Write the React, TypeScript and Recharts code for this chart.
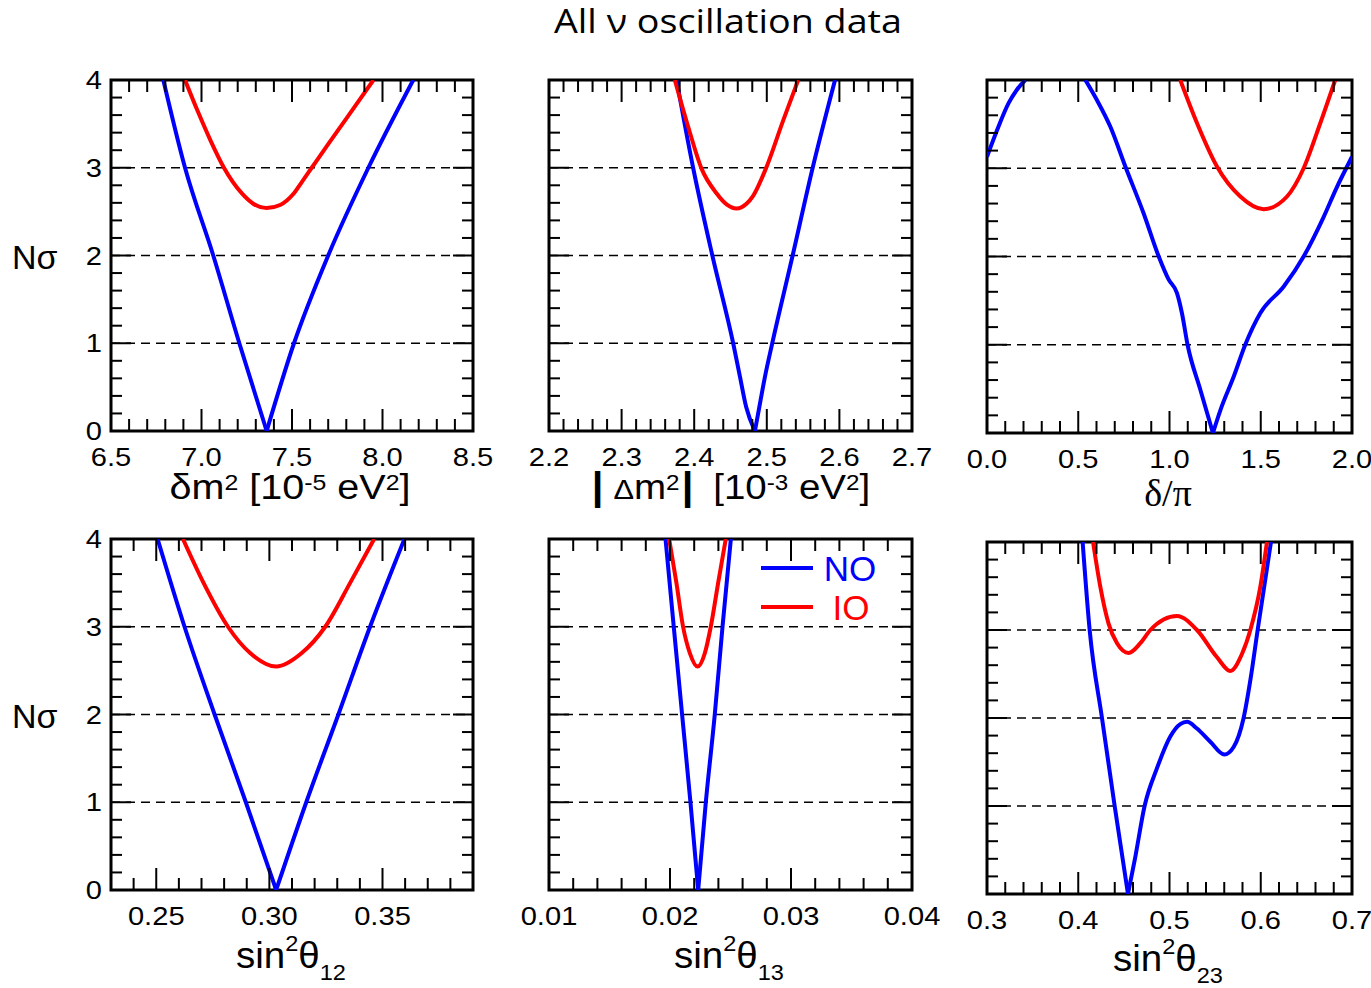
import React from "react";
import { LineChart, Line, XAxis, YAxis, ReferenceLine, ReferenceArea } from "recharts";

const SANS = "'Liberation Sans', Arial, Helvetica, sans-serif";
const SERIF = "'Liberation Serif', 'Times New Roman', serif";

const chartTitle = "All \u03bd oscillation data";
const seriesNames = ["NO", "IO"];
const seriesColors = ["#0000ff", "#ff0000"];
const sigmaLevels = [1, 2, 3];
const yMajor = [0, 1, 2, 3, 4];
const yMajorLabels = ["0", "1", "2", "3", "4"];

// delta m^2_21
const dm21Major = [6.5, 7.0, 7.5, 8.0, 8.5];
const dm21Labels = ["6.5", "7.0", "7.5", "8.0", "8.5"];
const dm21NOx = [6.789, 6.909, 7.065, 7.209, 7.36, 7.511, 7.70, 7.922, 8.17];
const dm21NOy = [4, 3, 2, 1, 0, 1, 2, 3, 4];
const dm21NOtip = 7.36;
const dm21IOx = [6.909, 6.98, 7.05, 7.124, 7.222, 7.286, 7.36, 7.434, 7.507, 7.555, 7.609, 7.70, 7.80, 7.95];
const dm21IOy = [4, 3.64, 3.31, 3.0, 2.71, 2.59, 2.54, 2.575, 2.7, 2.84, 3.0, 3.27, 3.56, 4.0];

// |Delta m^2|
const dm31Major = [2.2, 2.3, 2.4, 2.5, 2.6, 2.7];
const dm31Labels = ["2.2", "2.3", "2.4", "2.5", "2.6", "2.7"];
const dm31NOx = [2.3757, 2.3985, 2.425, 2.4537, 2.463, 2.4717, 2.4836, 2.4881, 2.4975, 2.5075, 2.5356, 2.5632, 2.594];
const dm31NOy = [4, 3, 2, 1, 0.62, 0.27, 0, 0.2, 0.62, 1, 2, 3, 4];
const dm31NOtip = 2.4836;
const dm31IOx = [2.3733, 2.3916, 2.4101, 2.4307, 2.445, 2.4583, 2.472, 2.4812, 2.4987, 2.5226, 2.5433];
const dm31IOy = [4, 3.47, 2.99, 2.71, 2.58, 2.536, 2.59, 2.68, 2.99, 3.54, 4];

// delta / pi
const cpMajor = [0, 0.5, 1.0, 1.5, 2.0];
const cpLabels = ["0.0", "0.5", "1.0", "1.5", "2.0"];
const cpNOx = [0, 0.055, 0.119, 0.164, 0.21, 0.375, 0.539, 0.603, 0.676, 0.758, 0.858, 0.941, 0.995, 1.041, 1.068, 1.099, 1.169, 1.238, 1.279, 1.352, 1.415, 1.498, 1.626, 1.735, 1.845, 1.918, 1.973, 2.0];
const cpNOy = [3.13, 3.43, 3.74, 3.89, 4.0, null, 4.0, 3.77, 3.47, 3.02, 2.49, 2.0, 1.74, 1.585, 1.36, 1.0, 0.49, 0, 0.26, 0.64, 1.0, 1.36, 1.66, 2.0, 2.45, 2.79, 3.02, 3.13];
const cpNOtip = 1.238;
const cpIOx = [1.059, 1.151, 1.26, 1.388, 1.516, 1.644, 1.735, 1.826, 1.908];
const cpIOy = [4, 3.51, 3.02, 2.68, 2.536, 2.68, 3.0, 3.51, 4];

// sin^2 theta12
const s12Major = [0.25, 0.30, 0.35];
const s12Labels = ["0.25", "0.30", "0.35"];
const s12NOx = [0.2506, 0.2625, 0.2758, 0.2896, 0.303, 0.3163, 0.3305, 0.3445, 0.3597];
const s12NOy = [4, 3, 2, 1, 0, 1, 2, 3, 4];
const s12NOtip = 0.303;
const s12IOx = [0.2618, 0.2709, 0.2817, 0.2915, 0.303, 0.3143, 0.3247, 0.3357, 0.3463];
const s12IOy = [4, 3.5, 3.0, 2.7, 2.546, 2.7, 3.0, 3.5, 4];

// sin^2 theta13
const s13Major = [0.01, 0.02, 0.03, 0.04];
const s13Labels = ["0.01", "0.02", "0.03", "0.04"];
const s13NOx = [0.01963, 0.02031, 0.021, 0.02169, 0.02233, 0.02296, 0.0237, 0.02434, 0.02503];
const s13NOy = [4, 3, 2, 1, 0, 1, 2, 3, 4];
const s13NOtip = 0.02233;
const s13IOx = [0.01993, 0.02053, 0.02108, 0.02164, 0.02228, 0.02288, 0.02337, 0.02398, 0.02461];
const s13IOy = [4, 3.5, 3.0, 2.7, 2.546, 2.7, 3.0, 3.5, 4];

// sin^2 theta23
const s23Major = [0.3, 0.4, 0.5, 0.6, 0.7];
const s23Labels = ["0.3", "0.4", "0.5", "0.6", "0.7"];
const s23NOx = [0.4048, 0.4125, 0.426, 0.4399, 0.4545, 0.4625, 0.4727, 0.4863, 0.5009, 0.5118, 0.5192, 0.5301, 0.5447, 0.5601, 0.5703, 0.5812, 0.5886, 0.5966, 0.6112];
const s23NOy = [4, 3, 2, 1, 0, 0.42, 1.0, 1.43, 1.79, 1.93, 1.956, 1.88, 1.73, 1.585, 1.67, 2.0, 2.43, 3.0, 4];
const s23NOtip = 0.4545;
const s23IOx = [0.4162, 0.4242, 0.4333, 0.4425, 0.4552, 0.468, 0.479, 0.4935, 0.5082, 0.5301, 0.5521, 0.5666, 0.5795, 0.5886, 0.5995, 0.6068];
const s23IOy = [4, 3.49, 3.07, 2.85, 2.74, 2.85, 3.0, 3.12, 3.16, 3.0, 2.69, 2.535, 2.73, 3.0, 3.49, 4];

type Pt = { x: number; y: number | null };
const zip = (xs: number[], ys: (number | null)[]): Pt[] => xs.map((x, i) => ({ x, y: ys[i] }));

const makeTicks = (min: number, max: number, step: number) => {
  const n = Math.round((max - min) / step);
  const out: number[] = [];
  for (let i = 0; i <= n; i++) out.push(+(min + i * step).toFixed(6));
  return out;
};

const findMajor = (majors: number[], v: number) => majors.findIndex((m) => Math.abs(m - v) < 1e-7);

type PanelCfg = {
  left: number; top: number; w: number; h: number;
  domain: [number, number]; step: number;
  major: number[]; labels: string[]; showY: boolean;
  no: Pt[]; noTip: number; io: Pt[];
};

const panels: PanelCfg[] = [
  { left: 111, top: 80, w: 362, h: 351, domain: [6.5, 8.5], step: 0.1, major: dm21Major, labels: dm21Labels, showY: true, no: zip(dm21NOx, dm21NOy), noTip: dm21NOtip, io: zip(dm21IOx, dm21IOy) },
  { left: 549, top: 80, w: 363, h: 351, domain: [2.2, 2.7], step: 0.02, major: dm31Major, labels: dm31Labels, showY: false, no: zip(dm31NOx, dm31NOy), noTip: dm31NOtip, io: zip(dm31IOx, dm31IOy) },
  { left: 987, top: 80, w: 365, h: 353, domain: [0, 2], step: 0.1, major: cpMajor, labels: cpLabels, showY: false, no: zip(cpNOx, cpNOy), noTip: cpNOtip, io: zip(cpIOx, cpIOy) },
  { left: 111, top: 539, w: 362, h: 351, domain: [0.23, 0.39], step: 0.01, major: s12Major, labels: s12Labels, showY: true, no: zip(s12NOx, s12NOy), noTip: s12NOtip, io: zip(s12IOx, s12IOy) },
  { left: 549, top: 539, w: 363, h: 351, domain: [0.01, 0.04], step: 0.002, major: s13Major, labels: s13Labels, showY: false, no: zip(s13NOx, s13NOy), noTip: s13NOtip, io: zip(s13IOx, s13IOy) },
  { left: 987, top: 542, w: 365, h: 352, domain: [0.3, 0.7], step: 0.02, major: s23Major, labels: s23Labels, showY: false, no: zip(s23NOx, s23NOy), noTip: s23NOtip, io: zip(s23IOx, s23IOy) },
];

const ML = 60, MT = 15, MR = 30, MB = 50;
const TICK_SX = 1.12;

function Panel({ cfg }: { cfg: PanelCfg }) {
  const xTicks = makeTicks(cfg.domain[0], cfg.domain[1], cfg.step);
  const yTicks = makeTicks(0, 4, 0.2);
  const noLeft = cfg.no.filter((p) => p.x <= cfg.noTip);
  const noRight = cfg.no.filter((p) => p.x >= cfg.noTip);
  const renderXTick = (p: any) => {
    const { x, y, payload } = p;
    const idx = findMajor(cfg.major, payload.value);
    const len = idx >= 0 ? 22 : 12;
    return (
      <g>
        <line x1={x} y1={y} x2={x} y2={y - len} stroke="#000" strokeWidth={2} />
        <line x1={x} y1={y - cfg.h} x2={x} y2={y - cfg.h + len} stroke="#000" strokeWidth={2} />
        {idx >= 0 ? (
          <g transform={`translate(${x} ${y + 35}) scale(${TICK_SX} 1)`}>
            <text x={0} y={0} textAnchor="middle" fontSize={26} fontFamily={SANS} fill="#000">
              {cfg.labels[idx]}
            </text>
          </g>
        ) : null}
      </g>
    );
  };
  const renderYTick = (p: any) => {
    const { x, y, payload } = p;
    const idx = findMajor(yMajor, payload.value);
    const len = idx >= 0 ? 20 : 11;
    return (
      <g>
        <line x1={x} y1={y} x2={x + len} y2={y} stroke="#000" strokeWidth={2} />
        <line x1={x + cfg.w} y1={y} x2={x + cfg.w - len} y2={y} stroke="#000" strokeWidth={2} />
        {idx >= 0 && cfg.showY ? (
          <g transform={`translate(${x - 9} ${y + 9}) scale(${TICK_SX} 1)`}>
            <text x={0} y={0} textAnchor="end" fontSize={26} fontFamily={SANS} fill="#000">
              {yMajorLabels[idx]}
            </text>
          </g>
        ) : null}
      </g>
    );
  };
  return (
    <div style={{ position: "absolute", left: cfg.left - ML, top: cfg.top - MT }}>
      <LineChart width={cfg.w + ML + MR} height={cfg.h + MT + MB} margin={{ top: MT, right: MR, bottom: 0, left: 0 }}>
        <XAxis
          dataKey="x"
          type="number"
          domain={cfg.domain}
          allowDataOverflow
          ticks={xTicks}
          interval={0}
          height={MB}
          tickSize={0}
          tickMargin={0}
          axisLine={false}
          tickLine={false}
          tick={renderXTick}
        />
        <YAxis
          type="number"
          domain={[0, 4]}
          allowDataOverflow
          ticks={yTicks}
          interval={0}
          width={ML}
          tickSize={0}
          tickMargin={0}
          axisLine={false}
          tickLine={false}
          tick={renderYTick}
        />
        {sigmaLevels.map((s) => (
          <ReferenceLine key={s} y={s} stroke="#000" strokeWidth={1.6} strokeDasharray="9 6" />
        ))}
        <Line data={noLeft} dataKey="y" name={seriesNames[0]} type="monotone" stroke={seriesColors[0]} strokeWidth={4} dot={false} activeDot={false} connectNulls={false} isAnimationActive={false} />
        <Line data={noRight} dataKey="y" name={seriesNames[0]} type="monotone" stroke={seriesColors[0]} strokeWidth={4} dot={false} activeDot={false} connectNulls={false} isAnimationActive={false} />
        <Line data={cfg.io} dataKey="y" name={seriesNames[1]} type="monotone" stroke={seriesColors[1]} strokeWidth={4} dot={false} activeDot={false} isAnimationActive={false} />
        <ReferenceArea x1={cfg.domain[0]} x2={cfg.domain[1]} y1={0} y2={4} fill="none" fillOpacity={0} stroke="#000" strokeWidth={3} />
      </LineChart>
    </div>
  );
}

type Part = { t: string; k?: "sup" | "sub"; size?: number; dx?: number; bold?: boolean };

function Rich({ x, y, parts, size = 35, sx = 1, up = 8, down = 12, family = SANS }: { x: number; y: number; parts: Part[]; size?: number; sx?: number; up?: number; down?: number; family?: string }) {
  let level = 0;
  const spans = parts.map((p, i) => {
    const target = p.k === "sup" ? -up : p.k === "sub" ? down : 0;
    const dy = target - level;
    level = target;
    return (
      <tspan key={i} dy={dy !== 0 ? dy : undefined} dx={p.dx} fontSize={p.size ?? (p.k ? 22 : size)} fontWeight={p.bold ? "bold" : undefined}>
        {p.t}
      </tspan>
    );
  });
  return (
    <g transform={`translate(${x} ${y}) scale(${sx} 1)`}>
      <text x={0} y={0} textAnchor="middle" fontFamily={family} fontSize={size} fill="#000">
        {spans}
      </text>
    </g>
  );
}

const dm21Title: Part[] = [{ t: "\u03b4m" }, { t: "2", k: "sup" }, { t: " [10" }, { t: "-5", k: "sup" }, { t: " eV" }, { t: "2", k: "sup" }, { t: "]" }];
const dm31Title: Part[] = [
  { t: "|", bold: true, size: 38 }, { t: "\u0394", size: 28, dx: 9 }, { t: "m" }, { t: "2", k: "sup" },
  { t: "|", bold: true, size: 38, dx: 2 }, { t: "[10", dx: 18 }, { t: "-3", k: "sup" }, { t: " eV" }, { t: "2", k: "sup" }, { t: "]" },
];
const s12Title: Part[] = [{ t: "sin" }, { t: "2", k: "sup" }, { t: "\u03b8" }, { t: "12", k: "sub" }];
const s13Title: Part[] = [{ t: "sin" }, { t: "2", k: "sup" }, { t: "\u03b8" }, { t: "13", k: "sub" }];
const s23Title: Part[] = [{ t: "sin" }, { t: "2", k: "sup" }, { t: "\u03b8" }, { t: "23", k: "sub" }];

export default function App() {
  return (
    <div style={{ position: "absolute", left: 0, top: 0, width: 1371, height: 988, overflow: "hidden", background: "#fff" }}>
      {panels.map((p, i) => (
        <Panel key={i} cfg={p} />
      ))}
      <svg width={1371} height={988} style={{ position: "absolute", left: 0, top: 0, pointerEvents: "none" }}>
        <text x={554} y={33} textLength={348} lengthAdjust="spacingAndGlyphs" fontFamily="'Open Sans', Lato, sans-serif" fontSize={32} fill="#000">
          {chartTitle}
        </text>
        <text x={12} y={269} fontFamily={SANS} fontSize={34} fill="#000">N{"\u03c3"}</text>
        <text x={12} y={728} fontFamily={SANS} fontSize={34} fill="#000">N{"\u03c3"}</text>

        <Rich x={290} y={499} parts={dm21Title} sx={1.13} up={9} />
        <Rich x={731} y={499} parts={dm31Title} sx={1.1} up={9} />
        <text x={1168} y={506} textAnchor="middle" fontFamily={SERIF} fontSize={38} fill="#000">
          {"\u03b4/\u03c0"}
        </text>
        <Rich x={291} y={968} parts={s12Title} size={36} sx={1.07} up={17} down={12} />
        <Rich x={729} y={968} parts={s13Title} size={36} sx={1.07} up={17} down={12} />
        <Rich x={1168} y={971} parts={s23Title} size={36} sx={1.07} up={17} down={12} />

        <line x1={761} x2={813} y1={568} y2={568} stroke={seriesColors[0]} strokeWidth={4} />
        <text x={850} y={581} textAnchor="middle" fontFamily={SANS} fontSize={35} fill={seriesColors[0]}>{seriesNames[0]}</text>
        <line x1={761} x2={813} y1={607} y2={607} stroke={seriesColors[1]} strokeWidth={4} />
        <text x={851} y={620} textAnchor="middle" fontFamily={SANS} fontSize={35} fill={seriesColors[1]}>{seriesNames[1]}</text>
      </svg>
    </div>
  );
}
